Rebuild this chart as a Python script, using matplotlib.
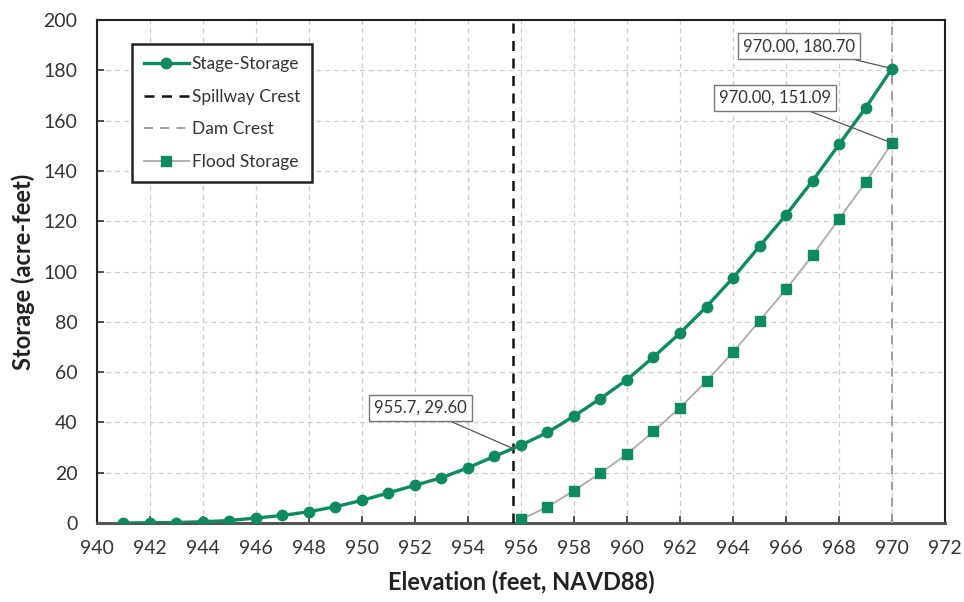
import matplotlib
matplotlib.use("Agg")
import matplotlib.pyplot as plt

plt.rcParams['font.family'] = ['Lato', 'DejaVu Sans']

elev_stage = [941, 942, 943, 944, 945, 946, 947, 948, 949, 950, 951, 952, 953, 954, 955,
              956, 957, 958, 959, 960, 961, 962, 963, 964, 965, 966, 967, 968, 969, 970]
stage_storage = [0.0, 0.1, 0.2, 0.5, 1.0, 2.0, 3.0, 4.5, 6.5, 9.0, 12.0, 15.0, 18.0, 22.0, 26.5,
                 31.0, 36.0, 42.5, 49.5, 57.0, 66.0, 75.5, 86.0, 97.5, 110.0, 122.5, 136.0, 150.5, 165.0, 180.7]

elev_flood = [956, 957, 958, 959, 960, 961, 962, 963, 964, 965, 966, 967, 968, 969, 970]
flood_storage = [1.4, 6.4, 12.9, 19.9, 27.4, 36.4, 45.9, 56.4, 67.9, 80.4, 92.9, 106.4, 120.9, 135.4, 151.09]

spillway_elev = 955.7
spillway_storage = 29.60
dam_elev = 970.0

xticks = list(range(940, 973, 2))
yticks = list(range(0, 201, 20))

green = '#0e8a62'

fig = plt.figure(figsize=(9.64, 6.02), dpi=100)
ax = fig.add_axes([0.1006, 0.1312, 0.8797, 0.8356])

ax.plot(elev_stage, stage_storage, color=green, lw=2.4, marker='o', ms=7.5,
        label='Stage-Storage', zorder=4)
ax.axvline(spillway_elev, color='#111111', lw=1.8, ls=(0, (4, 3)), label='Spillway Crest', zorder=3)
ax.axvline(dam_elev, color='#999999', lw=1.3, ls=(0, (5, 4)), label='Dam Crest', zorder=3)
ax.plot(elev_flood, flood_storage, color='#b0a8a8', lw=1.3, marker='s', ms=7,
        mfc=green, mec=green, label='Flood Storage', zorder=4)

ax.set_xlim(940, 972)
ax.set_ylim(0, 200)
ax.set_xticks(xticks)
ax.set_yticks(yticks)
ax.grid(True, color='#cccccc', ls=(0, (4, 3)), lw=0.9)
ax.set_axisbelow(True)
ax.tick_params(direction='in', length=5, width=1.2, colors='#333333', labelsize=14,
               labelcolor='#333333')
ax.tick_params(axis='x', pad=12)
ax.tick_params(axis='y', pad=14)
for s in ax.spines.values():
    s.set_color('#222222')
    s.set_linewidth(1.5)
ax.spines['bottom'].set_color('#555555')
ax.spines['bottom'].set_linewidth(2.2)

ax.set_xlabel('Elevation (feet, NAVD88)', fontsize=17, fontweight='bold', labelpad=10, color='#222222')
ax.set_ylabel('Storage (acre-feet)', fontsize=17, fontweight='bold', labelpad=6, color='#222222')

leg = ax.legend(loc='upper left', bbox_to_anchor=(0.041, 0.952), fontsize=12.5,
                frameon=True, fancybox=False, framealpha=1, edgecolor='#222222',
                borderpad=0.7, labelspacing=0.95, handlelength=2.6, handletextpad=0.15,
                borderaxespad=0)
leg.get_frame().set_linewidth(1.8)
for t in leg.get_texts():
    t.set_color('#333333')

bbox = dict(boxstyle='square,pad=0.3', fc='white', ec='#777777', lw=1)
ap = dict(arrowstyle='-', color='#555555', lw=0.9, shrinkA=0, shrinkB=0)
ax.annotate(f'{spillway_elev:.1f}, {spillway_storage:.2f}', xy=(spillway_elev, spillway_storage),
            xytext=(952.2, 45.7), fontsize=12, color='#333333', ha='center', va='center',
            bbox=bbox, arrowprops=ap, zorder=6)
ax.annotate(f'{elev_stage[-1]:.2f}, {stage_storage[-1]:.2f}', xy=(elev_stage[-1], stage_storage[-1]),
            xytext=(966.5, 189.5), fontsize=12, color='#333333', ha='center', va='center',
            bbox=bbox, arrowprops=ap, zorder=6)
ax.annotate(f'{elev_flood[-1]:.2f}, {flood_storage[-1]:.2f}', xy=(elev_flood[-1], flood_storage[-1]),
            xytext=(965.6, 169.0), fontsize=12, color='#333333', ha='center', va='center',
            bbox=bbox, arrowprops=ap, zorder=6)

fig.savefig('out.png', dpi=100)
